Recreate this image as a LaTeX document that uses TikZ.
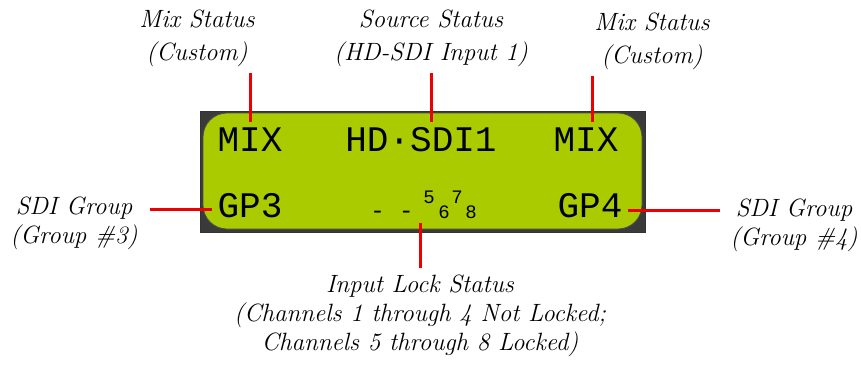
\documentclass[tikz,border=0pt]{standalone}
\usepackage{fontspec}
\usepackage{xcolor}
\newfontfamily\lcdfont{Liberation Mono}
\definecolor{lcdgreen}{RGB}{170,203,0}
\definecolor{framegray}{RGB}{58,58,58}
\definecolor{calloutred}{RGB}{236,0,0}
\tikzset{
  lbl/.style={font=\fontsize{12.5}{14.5}\selectfont\itshape, align=center, inner sep=3pt, anchor=base},
  toplbl/.style={lbl, font=\fontsize{12.5}{16.5}\selectfont\itshape},
  lcd/.style={font=\lcdfont\fontsize{18}{18}\selectfont, inner sep=2.5pt, anchor=base},
  lcdsmall/.style={font=\lcdfont\fontsize{9.5}{9.5}\selectfont, inner sep=0pt, anchor=base},
  callout/.style={draw=calloutred, line width=1.5pt},
}
\begin{document}
\begin{tikzpicture}[x=0.5pt, y=-0.5pt]
  \useasboundingbox (0,0) rectangle (861,364);

  % Draw the display frame
  \draw[fill=framegray, draw=black!80, line width=0.5pt] (200,111) rectangle (645,232);
  \draw[fill=lcdgreen, draw=black!70, line width=0.4pt, rounded corners=12pt] (203,113) rectangle (642,229);

  % Draw display texts
  \node[lcd] (mixL) at (250,151) {MIX};
  \node[lcd] (hdsdi) at (421,151) {HD·SDI1};
  \node[lcd] (mixR) at (586,151) {MIX};
  \node[lcd] (gp3) at (250,217) {GP3};
  \node[lcd] (gp4) at (590,217) {GP4};
  \node[lcd, font=\lcdfont\fontsize{12}{12}\selectfont, inner sep=0pt] (lkdash) at (392,218) {- -};
  \node[lcdsmall] (lk5) at (429,203) {5};
  \node[lcdsmall] (lk6) at (444,218) {6};
  \node[lcdsmall] (lk7) at (457,203) {7};
  \node[lcdsmall] (lk8) at (471,218) {8};

  % Draw labels (placed by the baseline of their last line)
  \node[toplbl] (mixLlbl) at (197,60) {Mix Status\\(Custom)};
  \node[toplbl] (srclbl) at (431,60) {Source Status\\(HD-SDI Input 1)};
  \node[toplbl] (mixRlbl) at (652,63) {Mix Status\\(Custom)};
  \node[lbl] (sdiLlbl) at (74,243) {SDI Group\\(Group \#3)};
  \node[lbl] (sdiRlbl) at (794,245) {SDI Group\\(Group \#4)};
  \node[lbl] (lockLbl) at (420,350) {Input Lock Status\\(Channels 1 through 4 Not Locked;\\Channels 5 through 8 Locked)};

  % Draw callout lines
  \draw[callout] (mixL.north) -- (mixL.north |- mixLlbl.south);
  \draw[callout] (hdsdi.north -| srclbl.south) -- (srclbl.south);
  \draw[callout] ([xshift=3pt]mixR.north) -- ([xshift=3pt]mixR.north |- mixRlbl.south);
  \draw[callout, shorten >=3pt] ([yshift=-2pt]gp3.west) -- ([yshift=-2pt]gp3.west -| sdiLlbl.east);
  \draw[callout, shorten >=2pt] ([yshift=-2.5pt]gp4.east) -- ([yshift=-2.5pt]gp4.east -| sdiRlbl.west);
  \draw[callout] (lockLbl.north) -- (lockLbl.north |- gp3.south);
\end{tikzpicture}
\end{document}
